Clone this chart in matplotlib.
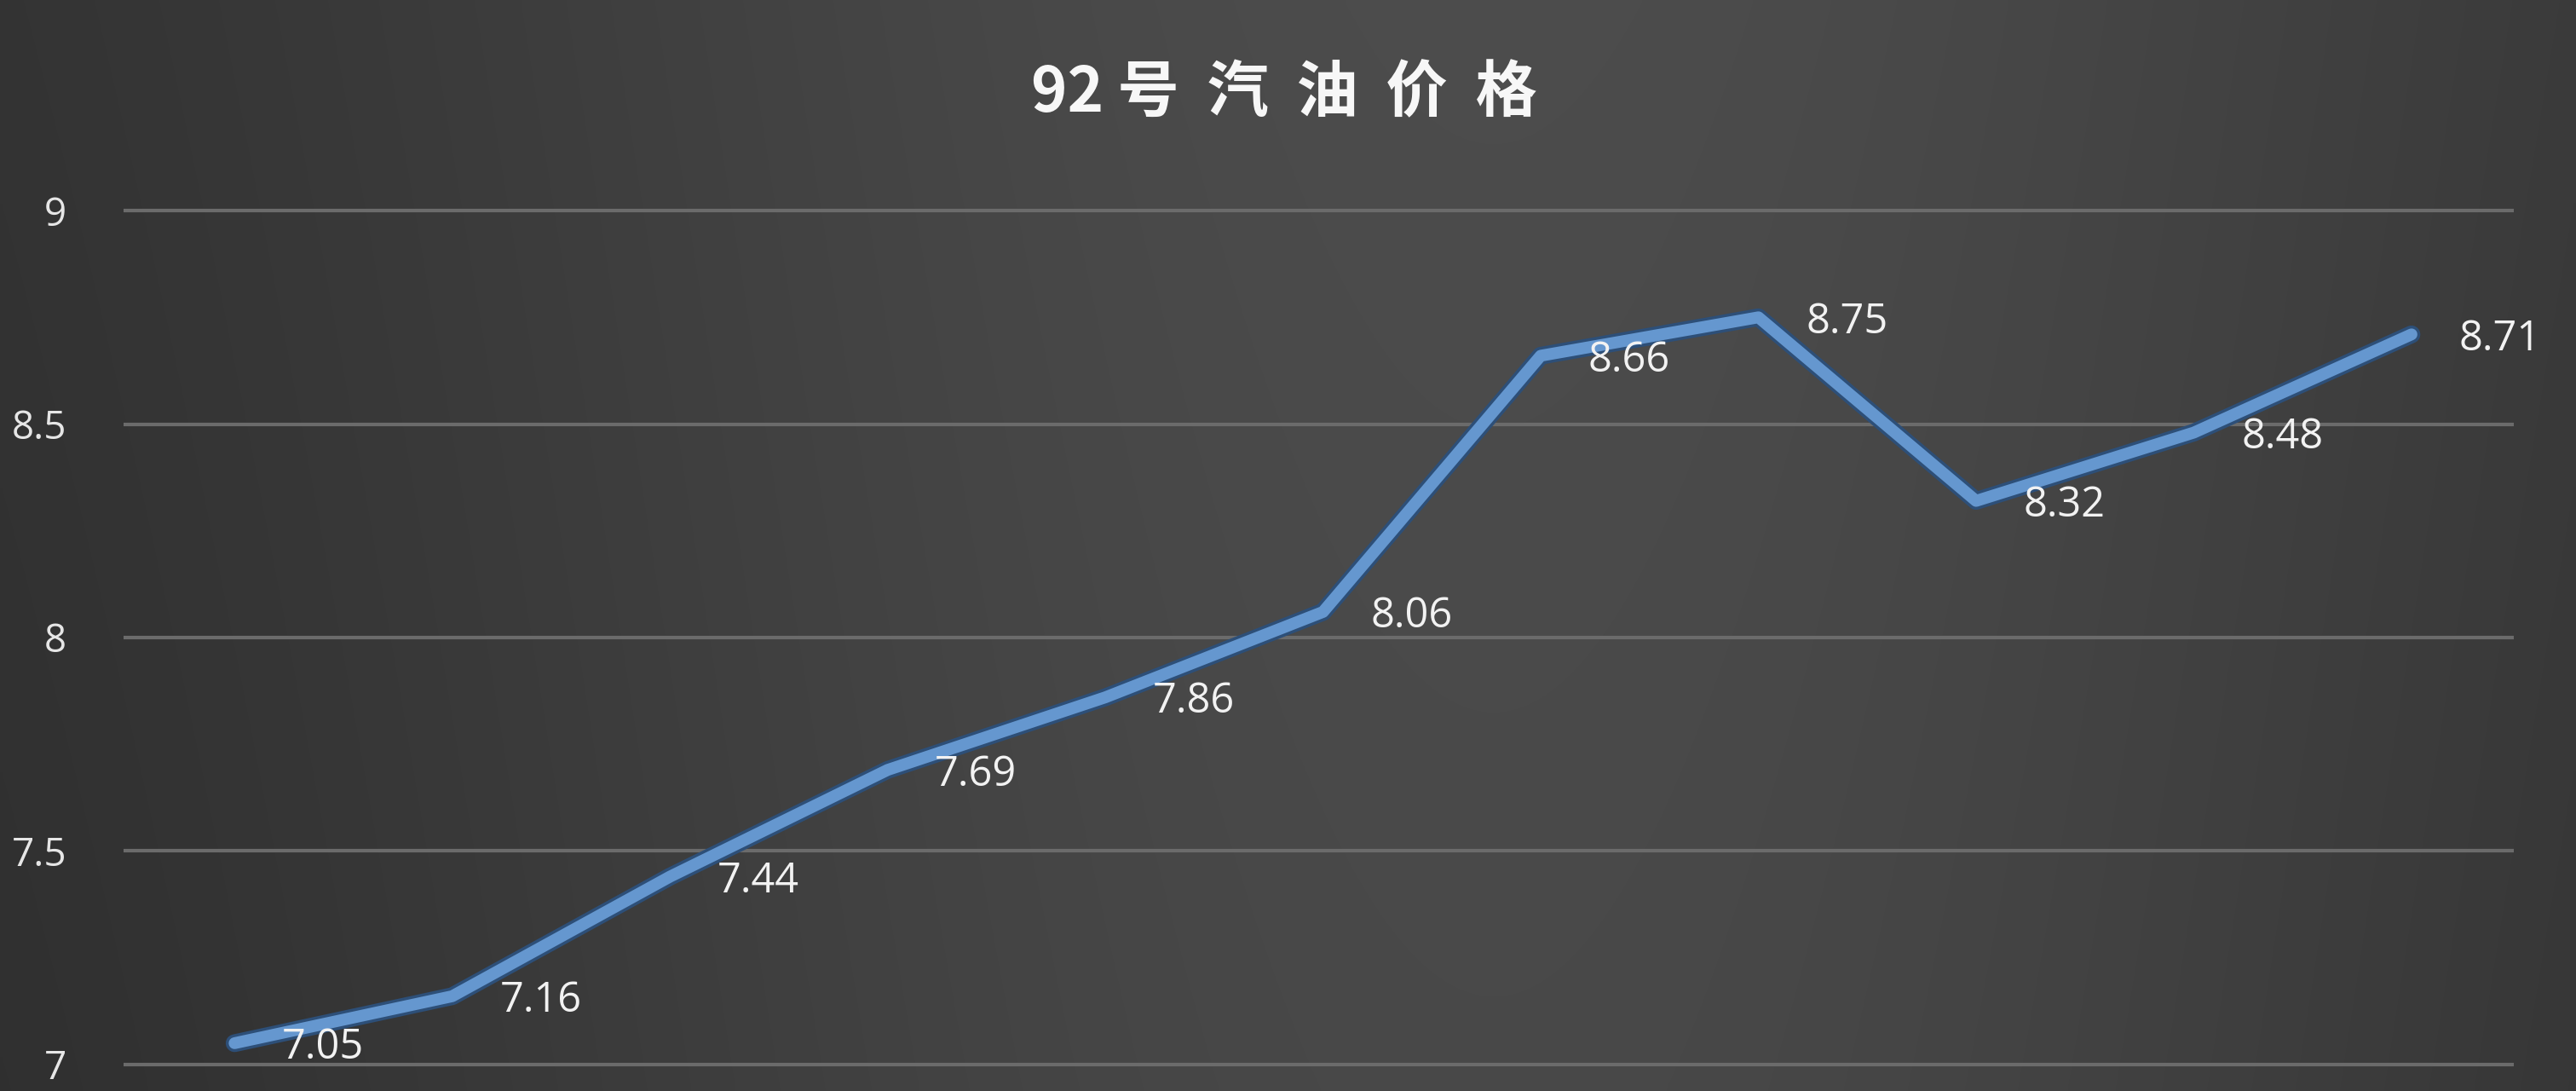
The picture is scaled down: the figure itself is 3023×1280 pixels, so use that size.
import numpy as np
import matplotlib.pyplot as plt
import matplotlib.patheffects as pe

plt.rcParams['font.family'] = ['Noto Sans CJK SC', 'DejaVu Sans']

# 92号汽油价格 (no category labels shown in the original)
points = list(range(11))
prices = [7.05, 7.16, 7.44, 7.69, 7.86, 8.06, 8.66, 8.75, 8.32, 8.48, 8.71]
y_ticks = [7, 7.5, 8, 8.5, 9]
y_tick_labels = ['7', '7.5', '8', '8.5', '9']
title = '92号汽油价格'

fig = plt.figure(figsize=(30.23, 12.8), dpi=100)

# dark gradient background, lighter in the middle
bg = fig.add_axes([0, 0, 1, 1], zorder=0)
xx = np.linspace(0, 1, 600)
yy = np.linspace(0, 1, 260)
X, Y = np.meshgrid(xx, yy)
shade = 0.18 + 0.12 * np.exp(-((X - 0.58) / 0.45) ** 2) - 0.015 * Y
rgb = np.dstack([shade, shade, shade])
bg.imshow(rgb, aspect='auto', extent=(0, 1, 0, 1), origin='upper',
          interpolation='bilinear')
bg.axis('off')

ax = fig.add_axes([145 / 3023, 0, 2805 / 3023, 1050 / 1280], zorder=1)
ax.patch.set_alpha(0)
ax.set_xlim(-0.51, 10.47)
ax.set_ylim(6.938, 9.034)

for v in y_ticks:
    ax.axhline(v, color='#6b6b6b', lw=3, zorder=1)

ax.plot(points, prices, color='#6597cf', lw=10, solid_joinstyle='round',
        solid_capstyle='round', zorder=3,
        path_effects=[pe.Stroke(linewidth=15, foreground='#2d4f78'), pe.Normal()])

for x, v in zip(points, prices):
    ax.annotate(f'{v:.2f}', (x, v), xytext=(40, -4), textcoords='offset points',
                ha='left', va='center', fontsize=35, color='#f2f2f2',
                family=['Open Sans', 'DejaVu Sans'], zorder=4)

ax.set_yticks(y_ticks)
ax.set_yticklabels(y_tick_labels, family=['Open Sans', 'DejaVu Sans'])
ax.tick_params(axis='y', length=0, pad=48, labelsize=33, labelcolor='#e6e6e6')
ax.set_xticks([])
for s in ax.spines.values():
    s.set_visible(False)

fig.text(0.4985, 1 - 110 / 1280, '  '.join([title[:2]] + list(title[2:])).replace('92  号', '92 号'),
         ha='center', va='center', fontsize=52, fontweight='bold', color='#f7f7f7')

fig.savefig('out.png', dpi=100)
